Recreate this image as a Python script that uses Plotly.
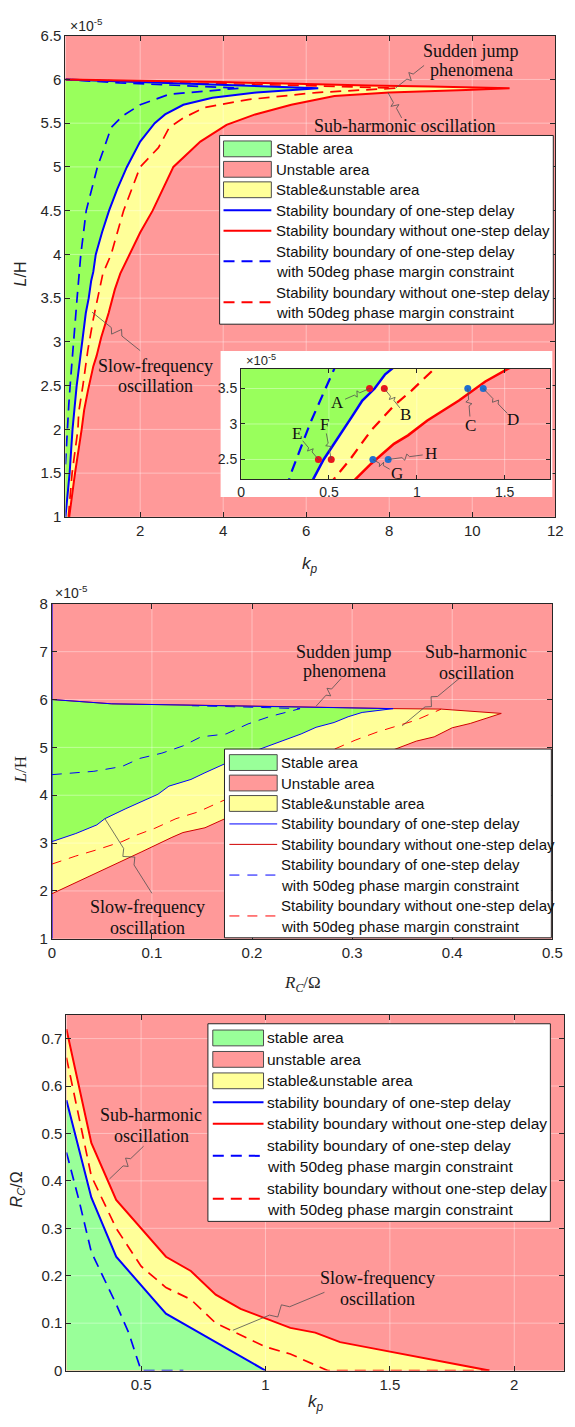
import math
import plotly.graph_objects as go

W, H = 575, 1427
SANS = "Liberation Sans, Arial, sans-serif"
SERIF = "Liberation Serif, Times New Roman, serif"
PINK = "#ff9999"
GREEN = "#99ff5c"
GREEN_SOFT = "#99ff99"
YELLOW = "#ffff99"
BLUE = "#0000ff"
RED = "#ff0000"
DARK_RED = "#d00000"
INK = "#262626"
TEXT = "#111111"
GRID = "rgba(255,255,255,0.38)"
DASH = "11px,7px"
THIN_DASH = "10px,8px"

# ---------------- (a) inductance L (x1e-5 H) versus kp ----------------
a_blue_kp = [0.20, 0.30, 0.37, 0.41, 0.47, 0.50, 0.58, 0.63, 0.69, 0.76, 0.82, 0.87, 0.93, 1.08,
             1.25, 1.45, 1.68, 2.00, 2.35, 2.60, 3.04, 3.74, 4.80, 6.29, 5.00, 3.00, 1.50, 0.20]
a_blue_L = [1.00, 1.50, 2.00, 2.22, 2.50, 2.61, 2.91, 3.10, 3.33, 3.50, 3.70, 3.80, 4.00, 4.25,
            4.50, 4.75, 5.00, 5.29, 5.50, 5.60, 5.71, 5.79, 5.85, 5.90, 5.92, 5.95, 5.98, 6.00]

a_red_kp = [0.29, 0.43, 0.59, 0.65, 0.74, 0.87, 0.95, 1.06, 1.24, 1.39, 1.52, 1.75, 2.00, 2.30,
            2.55, 2.80, 3.45, 4.08, 4.77, 5.64, 6.68, 8.00, 9.85, 10.90, 9.00, 7.50, 3.90, 0.20]
a_red_L = [1.00, 1.50, 2.00, 2.22, 2.44, 2.72, 2.84, 3.05, 3.33, 3.60, 3.78, 4.00, 4.25, 4.50,
           4.75, 5.00, 5.29, 5.48, 5.60, 5.71, 5.81, 5.85, 5.88, 5.90, 5.92, 5.93, 5.97, 6.00]

a_bdash_kp = [0.20, 0.22, 0.25, 0.28, 0.32, 0.35, 0.37, 0.40, 0.45, 0.48, 0.53, 0.57, 0.70, 0.97,
              1.12, 1.30, 1.57, 2.00, 2.70, 4.40, 3.00, 1.50, 0.20]
a_bdash_L = [1.60, 1.80, 2.00, 2.28, 2.55, 2.75, 2.86, 3.05, 3.33, 3.50, 3.78, 4.00, 4.50, 5.00,
             5.20, 5.45, 5.58, 5.71, 5.83, 5.90, 5.93, 5.96, 6.00]

a_rdash_kp = [0.27, 0.36, 0.50, 0.52, 0.62, 0.74, 0.87, 0.97, 1.10, 1.30, 1.60, 2.00, 2.44, 2.70,
              3.04, 3.56, 4.60, 6.25, 8.15, 6.00, 3.00, 0.20]
a_rdash_L = [1.00, 1.50, 2.00, 2.20, 2.50, 2.91, 3.26, 3.47, 3.78, 4.00, 4.50, 5.00, 5.22, 5.45,
             5.56, 5.68, 5.77, 5.85, 5.90, 5.93, 5.96, 6.00]

a_xticks = [2, 4, 6, 8, 10, 12]
a_yticks = [1, 1.5, 2, 2.5, 3, 3.5, 4, 4.5, 5, 5.5, 6, 6.5]

# test points marked in the zoomed view
pts_red_kp = [0.731, 0.815, 0.44, 0.513]
pts_red_L = [3.5, 3.5, 2.5, 2.5]
pts_red_tag = ["A", "B", "E", "F"]
pts_blue_kp = [1.29, 1.378, 0.75, 0.837]
pts_blue_L = [3.5, 3.5, 2.5, 2.5]
pts_blue_tag = ["C", "D", "G", "H"]

zoom_xticks = [0, 0.5, 1, 1.5]
zoom_yticks = [2.5, 3, 3.5]

# ---------------- (b) inductance L (x1e-5 H) versus Rc ----------------
b_blue_rc = [0.000, 0.024, 0.045, 0.053, 0.074, 0.088, 0.106, 0.117, 0.139, 0.153, 0.171, 0.189,
             0.210, 0.232, 0.249, 0.264, 0.282, 0.296, 0.310, 0.341, 0.239, 0.131, 0.060, 0.000]
b_blue_L = [3.03, 3.20, 3.38, 3.51, 3.72, 3.85, 4.02, 4.19, 4.33, 4.47, 4.64, 4.81,
            4.98, 5.15, 5.28, 5.42, 5.52, 5.64, 5.73, 5.81, 5.85, 5.88, 5.91, 6.00]

b_red_rc = [0.000, 0.030, 0.060, 0.090, 0.120, 0.131, 0.153, 0.172, 0.200, 0.250, 0.300, 0.344,
            0.364, 0.382, 0.400, 0.418, 0.449, 0.389, 0.341, 0.239, 0.131, 0.060, 0.000]
b_red_L = [1.94, 2.23, 2.52, 2.82, 3.12, 3.22, 3.32, 3.50, 3.80, 4.20, 4.62, 4.98,
           5.13, 5.22, 5.41, 5.50, 5.71, 5.80, 5.81, 5.85, 5.88, 5.91, 6.00]

b_rdash_rc = [0.000, 0.024, 0.045, 0.070, 0.085, 0.103, 0.124, 0.146, 0.167, 0.200, 0.250, 0.282,
              0.303, 0.325, 0.346, 0.364, 0.389]
b_rdash_L = [2.56, 2.73, 2.86, 3.03, 3.17, 3.31, 3.51, 3.65, 3.85, 4.15, 4.60, 4.96,
             5.15, 5.32, 5.45, 5.57, 5.80]

b_bdash_rc = [0.000, 0.024, 0.042, 0.070, 0.088, 0.110, 0.131, 0.149, 0.174, 0.196, 0.217, 0.239,
              0.248, 0.200, 0.140]
b_bdash_L = [4.43, 4.47, 4.50, 4.60, 4.77, 4.88, 5.03, 5.22, 5.28, 5.49, 5.64, 5.76,
             5.81, 5.84, 5.87]

b_xticks = [0, 0.1, 0.2, 0.3, 0.4, 0.5]
b_yticks = [1, 2, 3, 4, 5, 6, 7, 8]

# ---------------- (c) damping resistance Rc versus kp ----------------
c_red_kp = [0.2, 0.3, 0.4, 0.5, 0.6, 0.7, 0.8, 0.9, 1.0, 1.1, 1.2, 1.3, 1.4, 1.5, 1.6, 1.7, 1.8, 1.9]
c_red_rc = [0.72, 0.48, 0.36, 0.30, 0.24, 0.21, 0.16, 0.13, 0.11, 0.09, 0.08, 0.06, 0.05, 0.04,
            0.03, 0.02, 0.01, 0.00]
c_blue_kp = [0.2, 0.3, 0.4, 0.5, 0.6, 0.7, 0.8, 0.9, 1.0]
c_blue_rc = [0.57, 0.365, 0.24, 0.18, 0.12, 0.09, 0.06, 0.03, 0.00]
c_rdash_kp = [0.2, 0.3, 0.4, 0.5, 0.6, 0.7, 0.8, 0.9, 1.0, 1.1, 1.2, 1.25, 1.9]
c_rdash_rc = [0.66, 0.41, 0.30, 0.22, 0.175, 0.15, 0.10, 0.075, 0.05, 0.035, 0.012, 0.0, 0.0]
c_bdash_kp = [0.2, 0.25, 0.3, 0.4, 0.45, 0.5, 0.67]
c_bdash_rc = [0.46, 0.36, 0.25, 0.14, 0.08, 0.0, 0.0]

c_xticks = [0.5, 1, 1.5, 2]
c_yticks = [0, 0.1, 0.2, 0.3, 0.4, 0.5, 0.6, 0.7]

# ---------------- page geometry (pixels: left, top, right, bottom) ----------------
BOX = {
    "": (63, 27, 565, 514),      # (a)
    "2": (222, 346, 562, 494),   # white card behind the zoomed view
    "3": (243, 364, 560, 476),   # zoomed view inside (a)
    "4": (49, 602, 562, 941),    # (b)
    "5": (64, 1018, 574, 1378),  # (c)
}
RANGE = {
    "": ([0.2, 12], [1, 6.5]),
    "2": ([0, 1], [0, 1]),
    "3": ([0, 1.76], [2.22, 3.78]),
    "4": ([0, 0.5], [1, 8]),
    "5": ([0.2, 2.2], [0, 0.75]),
}

fig = go.Figure()


def add_axes(n, xticks, yticks, size=15, ticklen=5):
    l, t, r, b = BOX[n]
    xr, yr = RANGE[n]
    common = dict(showline=True, linecolor=INK, linewidth=1, mirror="ticks", ticks="inside",
                  ticklen=ticklen, tickwidth=1, tickcolor=INK, showgrid=False, zeroline=False,
                  layer="above traces", fixedrange=True,
                  tickfont=dict(family=SANS, size=size, color=INK))
    fig.update_layout(**{
        f"xaxis{n}": dict(domain=[l / W, r / W], range=xr, anchor=f"y{n}", tickmode="array",
                          tickvals=xticks, ticktext=[f"{v:g}" for v in xticks], **common),
        f"yaxis{n}": dict(domain=[1 - b / H, 1 - t / H], range=yr, anchor=f"x{n}", tickmode="array",
                          tickvals=yticks, ticktext=[f"{v:g}" for v in yticks], **common),
    })


def line(n, xs, ys, color, width, dash=None):
    fig.add_trace(go.Scatter(x=xs, y=ys, xaxis="x" + n, yaxis="y" + n, mode="lines",
                             line=dict(color=color, width=width, dash=dash),
                             hoverinfo="skip", showlegend=False))


def region(n, xs, ys, color):
    fig.add_trace(go.Scatter(x=xs, y=ys, xaxis="x" + n, yaxis="y" + n, mode="lines",
                             fill="toself", fillcolor=color, line=dict(width=0),
                             hoverinfo="skip", showlegend=False))


def below(n, xs, ys, color):
    fig.add_trace(go.Scatter(x=xs, y=ys, xaxis="x" + n, yaxis="y" + n, mode="lines",
                             fill="tozeroy", fillcolor=color, line=dict(width=0),
                             hoverinfo="skip", showlegend=False))


def grid(n, xticks, yticks):
    (x0, x1), (y0, y1) = RANGE[n]
    gx, gy = [], []
    for v in xticks:
        if x0 < v < x1:
            gx += [v, v, None]
            gy += [y0, y1, None]
    for v in yticks:
        if y0 < v < y1:
            gx += [x0, x1, None]
            gy += [v, v, None]
    line(n, gx, gy, GRID, 1)


def to_px(n, x, y):
    l, t, r, b = BOX[n]
    (x0, x1), (y0, y1) = RANGE[n]
    return l + (x - x0) / (x1 - x0) * (r - l), b - (y - y0) / (y1 - y0) * (b - t)


def leader(n, start, end, amp=4.0, trim=0.0):
    ax, ay = to_px(n, *start)
    bx, by = to_px(n, *end)
    d = math.hypot(bx - ax, by - ay)
    ux, uy = (bx - ax) / d, (by - ay) / d
    bx, by = bx - ux * trim, by - uy * trim
    dx, dy = bx - ax, by - ay
    nx, ny = -uy, ux
    pts = [(ax, ay), (ax + 0.40 * dx, ay + 0.40 * dy),
           (ax + 0.47 * dx + amp * nx, ay + 0.47 * dy + amp * ny),
           (ax + 0.55 * dx - amp * nx, ay + 0.55 * dy - amp * ny),
           (ax + 0.62 * dx, ay + 0.62 * dy), (bx, by)]
    path = "M " + " L ".join(f"{px / W:.5f},{1 - py / H:.5f}" for px, py in pts)
    fig.add_shape(type="path", path=path, xref="paper", yref="paper",
                  line=dict(color="#505050", width=0.8), layer="above")


def dtext(n, x, y, text, size=18, family=SERIF):
    fig.add_annotation(x=x, y=y, xref="x" + n, yref="y" + n, text=text, showarrow=False,
                       font=dict(family=family, size=size, color=TEXT),
                       xanchor="center", yanchor="middle")


def ptext(px, py, text, size, family=SANS, xanchor="center", angle=0, color=TEXT):
    fig.add_annotation(x=px / W, y=1 - py / H, xref="paper", yref="paper", text=text,
                       showarrow=False, font=dict(family=family, size=size, color=color),
                       xanchor=xanchor, yanchor="middle", textangle=angle)


def legend(box, pad, row_h, patch_x, text_x, patch_h, entries, size, line_w, dash):
    l, t, r, b = box
    fig.add_shape(type="rect", x0=l / W, x1=r / W, y0=1 - b / H, y1=1 - t / H,
                  xref="paper", yref="paper", fillcolor="white",
                  line=dict(color=INK, width=1), layer="above")
    y = t + pad
    for kind, style, texts in entries:
        cy = y + len(texts) * row_h / 2
        if kind == "patch":
            fig.add_shape(type="rect", x0=patch_x[0] / W, x1=patch_x[1] / W,
                          y0=1 - (cy + patch_h / 2) / H, y1=1 - (cy - patch_h / 2) / H,
                          xref="paper", yref="paper", fillcolor=style,
                          line=dict(color="#4d4d4d", width=1), layer="above")
        else:
            color, dashed = style
            fig.add_shape(type="line", x0=patch_x[0] / W, x1=patch_x[1] / W,
                          y0=1 - cy / H, y1=1 - cy / H, xref="paper", yref="paper",
                          line=dict(color=color, width=line_w, dash=dash if dashed else None),
                          layer="above")
        for k, s in enumerate(texts):
            ptext(text_x, y + (k + 0.5) * row_h, s, size, xanchor="left")
        y += len(texts) * row_h


# ---------------- axes ----------------
add_axes("", a_xticks, a_yticks)
fig.update_layout(xaxis2=dict(domain=[BOX["2"][0] / W, BOX["2"][2] / W], range=[0, 1],
                              anchor="y2", visible=False, fixedrange=True),
                  yaxis2=dict(domain=[1 - BOX["2"][3] / H, 1 - BOX["2"][1] / H], range=[0, 1],
                              anchor="x2", visible=False, fixedrange=True))
add_axes("3", zoom_xticks, zoom_yticks, size=14, ticklen=4)
add_axes("4", b_xticks, b_yticks)
add_axes("5", c_xticks, c_yticks)

# ---------------- (a) and its zoomed view ----------------
for n, xt, yt in (("", a_xticks, a_yticks), ("3", zoom_xticks, zoom_yticks)):
    if n == "3":
        # white card that carries the zoomed view
        region("2", [-1, 2, 2, -1], [-1, -1, 2, 2], "white")
    region(n, [0] + a_red_kp + [0], [a_red_L[0]] + a_red_L + [a_red_L[-1]], YELLOW)
    region(n, [0] + a_blue_kp + [0], [a_blue_L[0]] + a_blue_L + [a_blue_L[-1]], GREEN)
    grid(n, xt, yt)
    w = 2 if n == "" else 2.5
    line(n, a_bdash_kp, a_bdash_L, BLUE, w - 0.3, DASH)
    line(n, a_rdash_kp, a_rdash_L, RED, w - 0.3, DASH)
    line(n, a_blue_kp, a_blue_L, BLUE, w)
    line(n, a_red_kp, a_red_L, RED, w)

fig.add_trace(go.Scatter(x=pts_red_kp, y=pts_red_L, xaxis="x3", yaxis="y3", mode="markers",
                         marker=dict(color="#e8141c", size=7), hoverinfo="skip", showlegend=False))
fig.add_trace(go.Scatter(x=pts_blue_kp, y=pts_blue_L, xaxis="x3", yaxis="y3", mode="markers",
                         marker=dict(color="#1f6fd0", size=7), hoverinfo="skip", showlegend=False))

tag_pos = {"A": (0.546, 3.30), "B": (0.935, 3.13), "C": (1.306, 2.98), "D": (1.55, 3.06),
           "E": (0.318, 2.86), "F": (0.476, 2.99), "G": (0.889, 2.30), "H": (1.083, 2.58)}
for xs, ys, tags in ((pts_red_kp, pts_red_L, pts_red_tag), (pts_blue_kp, pts_blue_L, pts_blue_tag)):
    for x, y, tag in zip(xs, ys, tags):
        leader("3", (x, y), tag_pos[tag], amp=3, trim=9)
        dtext("3", tag_pos[tag][0], tag_pos[tag][1], tag, size=17)

leader("", (8.15, 5.90), (8.84, 6.16), amp=4)
leader("", (7.97, 5.85), (8.30, 5.56), amp=4)
leader("", (0.84, 3.34), (2.00, 2.90), amp=5)
dtext("", 9.96, 6.33, "Sudden jump")
dtext("", 9.99, 6.11, "phenomena")
dtext("", 8.36, 5.47, "Sub-harmonic oscillation")
dtext("", 2.36, 2.73, "Slow-frequency")
dtext("", 2.36, 2.50, "oscillation")

# ---------------- (b) ----------------
region("4", b_red_rc, b_red_L, YELLOW)
region("4", b_blue_rc, b_blue_L, GREEN)
grid("4", b_xticks, b_yticks)
line("4", [0, 0], [1, 8], BLUE, 1.5)
line("4", b_bdash_rc, b_bdash_L, BLUE, 1, THIN_DASH)
line("4", b_rdash_rc, b_rdash_L, RED, 1, THIN_DASH)
line("4", b_red_rc, b_red_L, DARK_RED, 1)
line("4", b_blue_rc, b_blue_L, BLUE, 1)

leader("4", (0.264, 5.86), (0.289, 6.44), amp=4)
leader("4", (0.350, 5.45), (0.407, 6.44), amp=4)
leader("4", (0.053, 3.51), (0.100, 1.95), amp=5)
dtext("4", 0.292, 7.00, "Sudden jump")
dtext("4", 0.292, 6.60, "phenomena")
dtext("4", 0.424, 6.99, "Sub-harmonic")
dtext("4", 0.424, 6.55, "oscillation")
dtext("4", 0.0956, 1.66, "Slow-frequency")
dtext("4", 0.0956, 1.23, "oscillation")

# ---------------- (c) ----------------
below("5", c_red_kp, c_red_rc, YELLOW)
below("5", c_blue_kp, c_blue_rc, GREEN_SOFT)
grid("5", c_xticks, c_yticks)
line("5", c_bdash_kp, c_bdash_rc, BLUE, 1.7, DASH)
line("5", c_rdash_kp, c_rdash_rc, RED, 1.7, DASH)
line("5", c_blue_kp, c_blue_rc, BLUE, 2)
line("5", c_red_kp, c_red_rc, RED, 2)

leader("5", (0.373, 0.404), (0.51, 0.473), amp=4)
leader("5", (0.869, 0.085), (1.237, 0.165), amp=5)
dtext("5", 0.541, 0.539, "Sub-harmonic")
dtext("5", 0.541, 0.494, "oscillation")
dtext("5", 1.452, 0.196, "Slow-frequency")
dtext("5", 1.452, 0.151, "oscillation")

# ---------------- legends ----------------
upper = [
    ("patch", GREEN_SOFT, ["Stable area"]),
    ("patch", PINK, ["Unstable area"]),
    ("patch", YELLOW, ["Stable&unstable area"]),
    ("line", (BLUE, False), ["Stability boundary of one-step delay"]),
    ("line", (RED, False), ["Stability boundary without one-step delay"]),
    ("line", (BLUE, True), ["Stability boundary of one-step delay",
                            "with 50deg phase margin constraint"]),
    ("line", (RED, True), ["Stability boundary without one-step delay",
                           "with 50deg phase margin constraint"]),
]
legend((221, 128, 563, 319), 3.2, 20.7, (225, 274), 277, 16, upper, 15, 2, DASH)
middle = [(k, (DARK_RED, False) if s == (RED, False) else s, t) for k, s, t in upper]
legend((226, 749, 561, 940), 3.3, 20.7, (231, 280), 282, 16, middle, 15, 1, THIN_DASH)
lower = [(k, s, [t[0].lower() + t[1:] for t in txt]) for k, s, txt in upper]
legend((209, 1027, 560, 1227), 3.5, 21.7, (214, 266), 268, 16, lower, 15.5, 2, DASH)

# ---------------- axis titles and exponents ----------------
ptext(66, 16, "×10<sup>-5</sup>", 14, xanchor="left", color=INK)
ptext(246, 355, "×10<sup>-5</sup>", 13, xanchor="left", color=INK)
ptext(50, 590, "×10<sup>-5</sup>", 14, xanchor="left", color=INK)
ptext(17, 268, "<i>L</i>/H", 16, angle=-90, color=INK)
ptext(314, 563, "<i>k</i><sub><i>p</i></sub>", 17, color=INK)
ptext(17, 770, "<i>L</i>/H", 17, family=SERIF, angle=-90, color=INK)
ptext(306, 987, "<i>R</i><sub><i>C</i></sub>/Ω", 17, family=SERIF, color=INK)
ptext(14, 1195, "<i>R</i><sub><i>C</i></sub>/Ω", 16, angle=-90, color=INK)
ptext(320, 1411, "<i>k</i><sub><i>p</i></sub>", 17, color=INK)

fig.update_layout(width=W, height=H, autosize=False, margin=dict(l=0, r=0, t=0, b=0),
                  paper_bgcolor="white", plot_bgcolor=PINK, showlegend=False)

fig.write_html("out.html")
